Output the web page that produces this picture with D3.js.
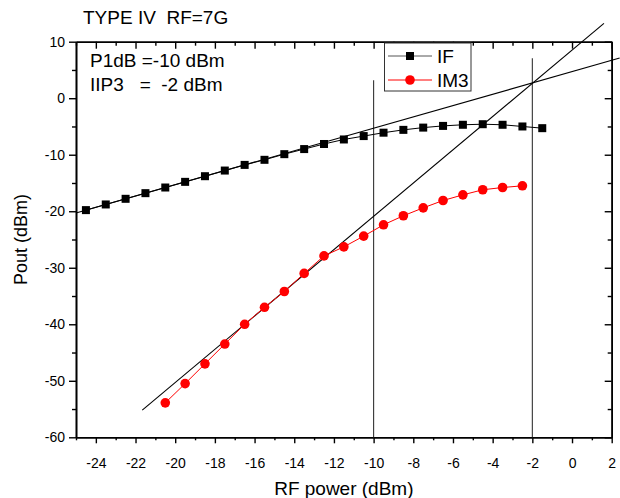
<!DOCTYPE html>
<html>
<head>
<meta charset="utf-8">
<script src="https://cdn.jsdelivr.net/npm/d3@7/dist/d3.min.js"></script>
<style>
  html, body { margin: 0; padding: 0; background: #fff; }
  svg { display: block; }
  text { font-family: "Liberation Sans", Arial, sans-serif; fill: #000; }
</style>
</head>
<body>
<svg id="chart" width="620" height="498"></svg>
<script>
// ---------- data ----------
const ifX = [-24.5,-23.5,-22.5,-21.5,-20.5,-19.5,-18.5,-17.5,-16.5,-15.5,-14.5,-13.5,-12.5,-11.5,-10.5,-9.5,-8.5,-7.5,-6.5,-5.5,-4.5,-3.5,-2.5,-1.5];
const ifY = [-19.8,-18.8,-17.8,-16.8,-15.8,-14.8,-13.8,-12.8,-11.8,-10.9,-9.9,-9.0,-8.1,-7.3,-6.7,-6.1,-5.6,-5.2,-4.9,-4.7,-4.6,-4.7,-5.0,-5.3];
const im3X = [-20.5,-19.5,-18.5,-17.5,-16.5,-15.5,-14.5,-13.5,-12.5,-11.5,-10.5,-9.5,-8.5,-7.5,-6.5,-5.5,-4.5,-3.5,-2.5];
const im3Y = [-53.9,-50.5,-47.0,-43.5,-40.0,-37.0,-34.2,-31.0,-27.9,-26.3,-24.4,-22.4,-20.8,-19.4,-18.1,-17.1,-16.2,-15.8,-15.5];
// extrapolation lines (dBm)
const fitIFX = [-25, 2.4];
const fitIFY = [-20.3, 7.1];
const fitIM3X = [-21.66, 1.61];
const fitIM3Y = [-55.2, 13.25];
// markers at P1dB and IIP3
const markerX = [-10, -2];
const markerTop = [3.2, 7.05];
const xMajor = [-24,-22,-20,-18,-16,-14,-12,-10,-8,-6,-4,-2,0,2];
const xMinor = [-25,-23,-21,-19,-17,-15,-13,-11,-9,-7,-5,-3,-1,1];
const yMajor = [-60,-50,-40,-30,-20,-10,0,10];
const yMinor = [-55,-45,-35,-25,-15,-5,5];
const seriesNames = ["IF", "IM3"];
const titleText = "TYPE IV  RF=7G";
const noteLines = ["P1dB =-10 dBm", "IIP3   =  -2 dBm"];

// ---------- layout ----------
const L = 76, R = 611.7, T = 41.7, B = 437.3;
const x = d3.scaleLinear().domain([-25, 2]).range([L, R]);
const y = d3.scaleLinear().domain([-60, 10]).range([B, T]);
const svg = d3.select("#chart");
const fmt = d => String(d);

function styleAxis(g) {
  g.selectAll("path.domain").attr("stroke", "#000").attr("stroke-width", 1.6);
  g.selectAll(".tick line").attr("stroke", "#000").attr("stroke-width", 1.4);
  g.selectAll(".tick text").style("font-size", "14px").attr("fill", "#000");
}

// bottom axis
svg.append("g").attr("transform", `translate(0,${B})`)
  .call(d3.axisBottom(x).tickValues(xMajor).tickSize(6).tickPadding(15).tickFormat(fmt).tickSizeOuter(0))
  .call(styleAxis);
svg.append("g").attr("transform", `translate(0,${B})`)
  .call(d3.axisBottom(x).tickValues(xMinor).tickSize(3).tickFormat("").tickSizeOuter(0))
  .call(styleAxis);
// top axis (ticks inward)
svg.append("g").attr("transform", `translate(0,${T})`)
  .call(d3.axisBottom(x).tickValues(xMajor).tickSize(7).tickFormat("").tickSizeOuter(0))
  .call(styleAxis);
svg.append("g").attr("transform", `translate(0,${T})`)
  .call(d3.axisBottom(x).tickValues(xMinor).tickSize(4).tickFormat("").tickSizeOuter(0))
  .call(styleAxis);
// left axis
svg.append("g").attr("transform", `translate(${L},0)`)
  .call(d3.axisLeft(y).tickValues(yMajor).tickSize(7).tickPadding(4).tickFormat(fmt).tickSizeOuter(0))
  .call(styleAxis);
svg.append("g").attr("transform", `translate(${L},0)`)
  .call(d3.axisLeft(y).tickValues(yMinor).tickSize(4).tickFormat("").tickSizeOuter(0))
  .call(styleAxis);
// right axis (ticks inward)
svg.append("g").attr("transform", `translate(${R},0)`)
  .call(d3.axisLeft(y).tickValues(yMajor).tickSize(7).tickFormat("").tickSizeOuter(0))
  .call(styleAxis);
svg.append("g").attr("transform", `translate(${R},0)`)
  .call(d3.axisLeft(y).tickValues(yMinor).tickSize(4).tickFormat("").tickSizeOuter(0))
  .call(styleAxis);

// vertical marker lines
markerX.forEach((mx, i) => {
  svg.append("line")
    .attr("x1", x(mx)).attr("x2", x(mx))
    .attr("y1", y(markerTop[i])).attr("y2", y(-60))
    .attr("stroke", "#333").attr("stroke-width", 1.1);
});

const line = d3.line().x(d => x(d[0])).y(d => y(d[1]));

// extrapolation lines
svg.append("path").datum(d3.zip(fitIFX, fitIFY)).attr("d", line)
  .attr("fill", "none").attr("stroke", "#000").attr("stroke-width", 1.1);
svg.append("path").datum(d3.zip(fitIM3X, fitIM3Y)).attr("d", line)
  .attr("fill", "none").attr("stroke", "#000").attr("stroke-width", 1.1);

// IF series
const ifData = d3.zip(ifX, ifY);
svg.append("path").datum(ifData).attr("d", line)
  .attr("fill", "none").attr("stroke", "#000").attr("stroke-width", 1);
svg.append("g").selectAll("rect").data(ifData).join("rect")
  .attr("x", d => x(d[0]) - 4).attr("y", d => y(d[1]) - 4)
  .attr("width", 8).attr("height", 8).attr("fill", "#000");

// IM3 series
const im3Data = d3.zip(im3X, im3Y);
svg.append("path").datum(im3Data).attr("d", line)
  .attr("fill", "none").attr("stroke", "#ff0000").attr("stroke-width", 1);
svg.append("g").selectAll("circle").data(im3Data).join("circle")
  .attr("cx", d => x(d[0])).attr("cy", d => y(d[1])).attr("r", 4.8)
  .attr("fill", "#ff0000");

// legend
const lg = svg.append("g");
lg.append("rect").attr("x", 384.5).attr("y", 43).attr("width", 86.5).attr("height", 48)
  .attr("fill", "#fff").attr("stroke", "#333").attr("stroke-width", 1);
const legRows = [
  { name: seriesNames[0], color: "#000", lineColor: "#555", sym: "square", cy: 56 },
  { name: seriesNames[1], color: "#ff0000", lineColor: "#ff0000", sym: "circle", cy: 80 }
];
legRows.forEach(r => {
  lg.append("line").attr("x1", 388).attr("x2", 432).attr("y1", r.cy).attr("y2", r.cy)
    .attr("stroke", r.lineColor).attr("stroke-width", 1);
  if (r.sym === "square") {
    lg.append("rect").attr("x", 410 - 4).attr("y", r.cy - 4).attr("width", 8).attr("height", 8).attr("fill", r.color);
  } else {
    lg.append("circle").attr("cx", 410).attr("cy", r.cy).attr("r", 4.8).attr("fill", r.color);
  }
  lg.append("text").attr("x", 437).attr("y", r.cy + 7).style("font-size", "19px").text(r.name);
});

// title and notes
svg.append("text").attr("x", 83).attr("y", 24).style("font-size", "19px")
  .style("white-space", "pre").text(titleText);
svg.append("text").attr("x", 90).attr("y", 67).style("font-size", "19px")
  .style("white-space", "pre").text(noteLines[0]);
svg.append("text").attr("x", 90).attr("y", 91).style("font-size", "19px")
  .style("white-space", "pre").text(noteLines[1]);

// axis titles
svg.append("text").attr("x", (L + R) / 2).attr("y", 495).attr("text-anchor", "middle")
  .style("font-size", "19px").text("RF power (dBm)");
svg.append("text").attr("transform", `translate(27,${(T + B) / 2}) rotate(-90)`)
  .attr("text-anchor", "middle").style("font-size", "18px").text("Pout (dBm)");
</script>
</body>
</html>
